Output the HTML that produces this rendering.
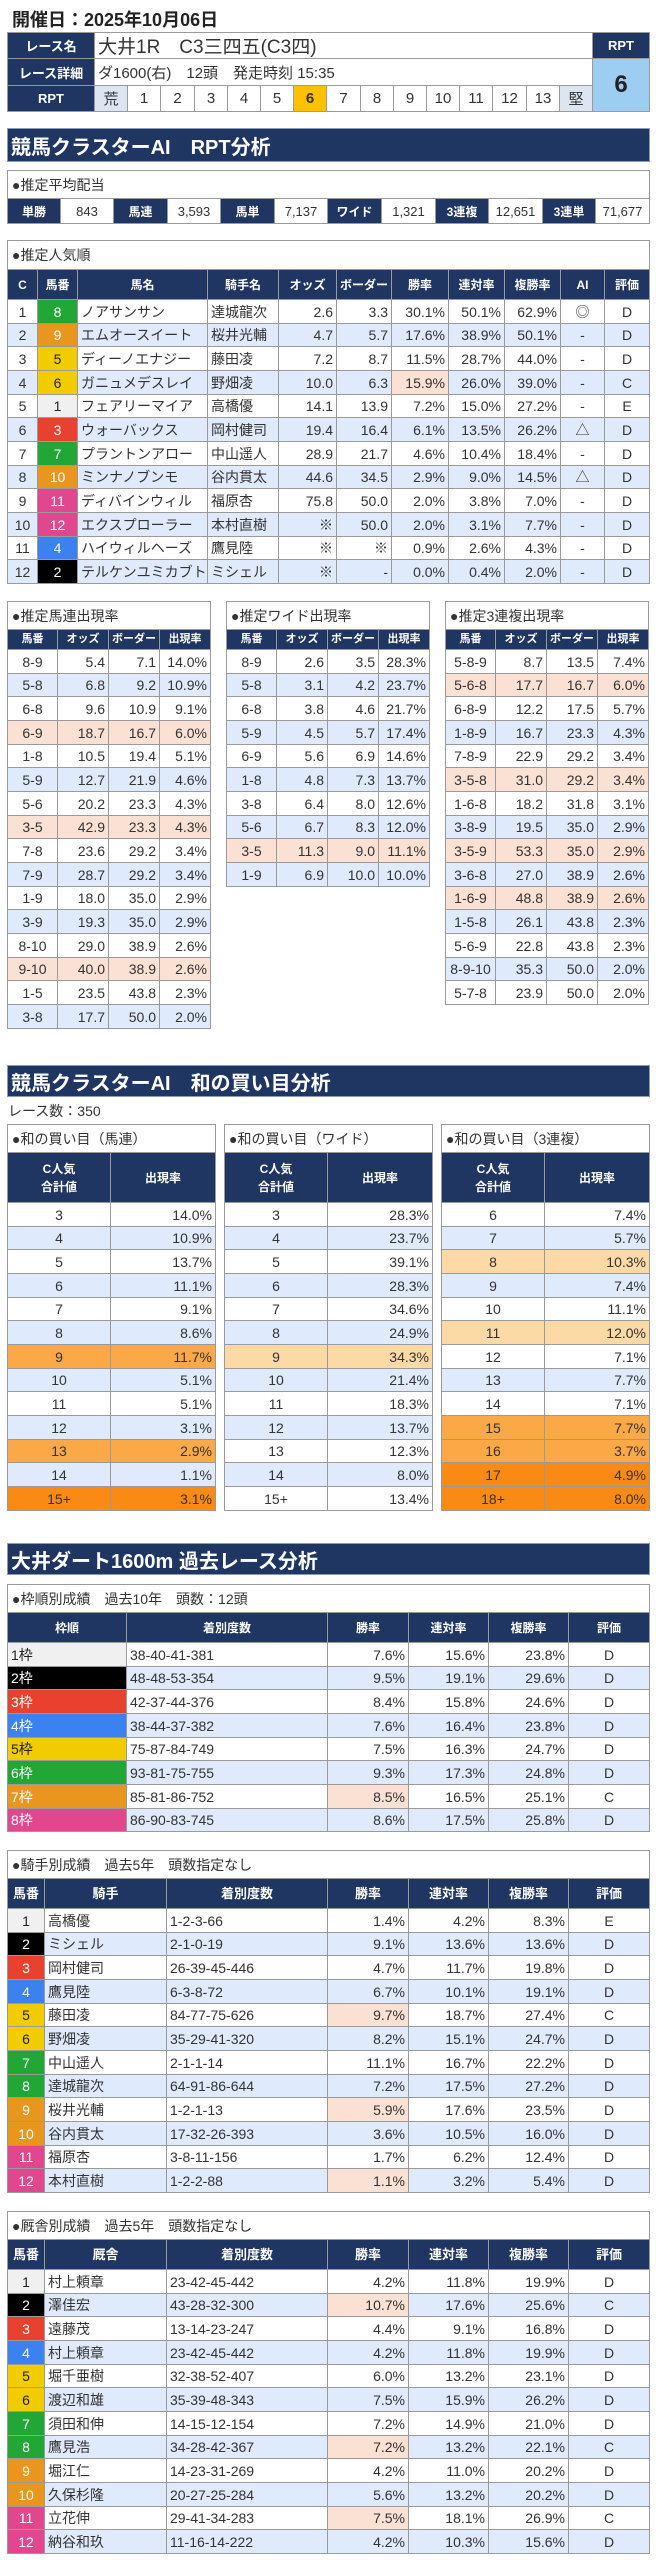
<!DOCTYPE html>
<html><head><meta charset="utf-8">
<style>
*{box-sizing:border-box;margin:0;padding:0}
body{width:656px;height:2560px;background:#fff;position:relative;overflow:hidden;font-family:"Liberation Sans","Noto Sans CJK JP",sans-serif;color:#333}
.c{position:absolute;display:flex;align-items:center;white-space:nowrap;overflow:hidden;border-right:1px solid #9a9a9a;border-bottom:1px solid #9a9a9a}
.sec{position:absolute;left:7px;width:643px;background:#1f3562;color:#fff;font-weight:bold;font-size:20px;display:flex;align-items:center;padding-left:3px;border:1px solid #8a9ab8}
</style></head><body>
<div style="position:absolute;left:12px;top:6px;font-size:18px;font-weight:bold;color:#222">開催日：2025年10月06日</div>
<div class="sec" style="top:128px;height:34px">競馬クラスターAI　RPT分析</div>
<div class="sec" style="top:1065px;height:32px">競馬クラスターAI　和の買い目分析</div>
<div style="position:absolute;left:8px;top:1101px;font-size:14px;color:#333">レース数：350</div>
<div class="sec" style="top:1543px;height:32px">大井ダート1600m 過去レース分析</div>
<script>
const NAVY='#1f3562',LB='#dfeafc',PEACH='#fbe0d4',O1='#fdd9a6',O2='#fba846',O3='#f98a14';
const FRAME=['#f0f0f0','#000000','#e8412f','#3b82f0','#f0cc00','#22a636','#e8961e','#e0478f'];
const FTXT=['#222','#fff','#fff','#fff','#222','#fff','#fff','#fff'];
const horseFrame=[0,1,2,3,4,5,5,6,6,7,7,8,8];
const root=document.body;
function cell(x,y,w,h,text,o){
  o=o||{};
  const el=document.createElement('div');
  el.className='c';
  
  
  el.style.cssText+=`left:${x}px;top:${y}px;width:${w}px;height:${h}px;background:${o.bg||'#fff'};color:${o.color||'#333'};font-size:${o.size||13}px;font-weight:${o.bold?'bold':'normal'};justify-content:${o.al==='l'?'flex-start':o.al==='r'?'flex-end':'center'};padding:0 ${o.al==='r'?3:o.al==='l'?3:0}px;`;
  if(o.bl)el.style.borderLeft='1px solid #9a9a9a';
  if(o.bt)el.style.borderTop='1px solid #9a9a9a';
  el.textContent=text;
  root.appendChild(el);
  return el;
}
function boxTitle(x,y,w,h,text,name){
  const el=cell(x,y,w,h,'●'+text,{al:'l',size:14,bl:1,bt:1,name:name});
  el.style.paddingLeft='4px';
}
function header(x,y,widths,h,labels,size){
  let cx=x;
  labels.forEach((t,i)=>{const el=cell(cx,y,widths[i],h,'',{bg:NAVY,color:'#fff',bold:1,size:size||12,bl:i===0,name:'column-header'});el.innerHTML=t;el.style.textAlign='center';el.style.lineHeight='1.5';cx+=widths[i];});
}
function rows(x,y,widths,rh,data,aligns,opts){
  opts=opts||{};
  data.forEach((r,ri)=>{
    let cx=x;
    const rowBg=opts.rowBg?opts.rowBg(ri):(ri%2?LB:'#fff');
    r.forEach((v,ci)=>{
      let s=String(v),bg=rowBg,col='#333';
      if(s[0]==='*'){s=s.slice(1);bg=PEACH;}
      if(opts.colored!==undefined&&ci===opts.colored){const f=opts.frameOf(r);bg=FRAME[f];col=FTXT[f];}
      cell(cx,Math.round(y+ri*rh),widths[ci],Math.round(y+(ri+1)*rh)-Math.round(y+ri*rh),s,{al:aligns[ci],bg:bg,color:col,bl:ci===0,size:opts.size||13,name:opts.name||'table-cell'});
      cx+=widths[ci];
    });
  });
}

/* race info table */
cell(7,32,88,27,'レース名',{bg:NAVY,color:'#fff',bold:1,size:13,bl:1,bt:1,name:'race-name-label'});
cell(7,59,88,27,'レース詳細',{bg:NAVY,color:'#fff',bold:1,size:13,bl:1,name:'race-detail-label'});
cell(7,86,88,26,'RPT',{bg:NAVY,color:'#fff',bold:1,size:13,bl:1,name:'rpt-label'});
cell(95,32,498,27,'大井1R　C3三四五(C3四)',{al:'l',size:19,bt:1,name:'race-name'});
cell(95,59,498,27,'ダ1600(右)　12頭　発走時刻 15:35',{al:'l',size:15,name:'race-detail'});
const rptScale=['荒','1','2','3','4','5','6','7','8','9','10','11','12','13','堅'];
rptScale.forEach((t,i)=>{const x0=95+Math.round(i*33.2),x1=95+Math.round((i+1)*33.2);
  cell(x0,86,x1-x0,26,t,{size:15,bg:(i===0||i===14)?'#dce6f2':(t==='6'?'#ffc000':'#fff'),bold:t==='6',name:'rpt-scale-cell'});});
cell(593,32,57,27,'RPT',{bg:NAVY,color:'#fff',bold:1,size:13,bt:1,name:'rpt-box-label'});
cell(593,59,57,53,'6',{bg:'#9dcdf0',color:'#222',bold:1,size:24,name:'rpt-value'});

/* payout */
boxTitle(7,170,643,29,'推定平均配当','avg-payout-title');
const payLabels=['単勝','馬連','馬単','ワイド','3連複','3連単'];
const payValues=['843','3,593','7,137','1,321','12,651','71,677'];
payLabels.forEach((l,i)=>{const x0=7+Math.round(i*2*53.58),x1=7+Math.round((i*2+1)*53.58),x2=7+Math.round((i*2+2)*53.58);
  cell(x0,199,x1-x0,25,l,{bg:NAVY,color:'#fff',bold:1,size:12,bl:i===0,name:'payout-label'});
  cell(x1,199,x2-x1,25,payValues[i],{size:13,name:'payout-value'});});

/* popularity */
boxTitle(7,240,643,30,'推定人気順','popularity-title');
const popW=[31,40,130,71,58,55,57,56,56,44,45];
header(7,270,popW,30,['C','馬番','馬名','騎手名','オッズ','ボーダー','勝率','連対率','複勝率','AI','評価'],12);
const popRows=[
[1,8,'ノアサンサン','達城龍次','2.6','3.3','30.1%','50.1%','62.9%','◎','D'],
[2,9,'エムオースイート','桜井光輔','4.7','5.7','17.6%','38.9%','50.1%','-','D'],
[3,5,'ディーノエナジー','藤田凌','7.2','8.7','11.5%','28.7%','44.0%','-','D'],
[4,6,'ガニュメデスレイ','野畑凌','10.0','6.3','*15.9%','26.0%','39.0%','-','C'],
[5,1,'フェアリーマイア','高橋優','14.1','13.9','7.2%','15.0%','27.2%','-','E'],
[6,3,'ウォーバックス','岡村健司','19.4','16.4','6.1%','13.5%','26.2%','△','D'],
[7,7,'プラントンアロー','中山遥人','28.9','21.7','4.6%','10.4%','18.4%','-','D'],
[8,10,'ミンナノブンモ','谷内貫太','44.6','34.5','2.9%','9.0%','14.5%','△','D'],
[9,11,'ディバインウィル','福原杏','75.8','50.0','2.0%','3.8%','7.0%','-','D'],
[10,12,'エクスプローラー','本村直樹','※','50.0','2.0%','3.1%','7.7%','-','D'],
[11,4,'ハイウィルヘーズ','鷹見陸','※','※','0.9%','2.6%','4.3%','-','D'],
[12,2,'テルケンユミカブト','ミシェル','※','-','0.0%','0.4%','2.0%','-','D']];
rows(7,300,popW,23.67,popRows,['c','c','l','l','r','r','r','r','r','c','c'],{colored:1,frameOf:r=>horseFrame[r[1]]-1,size:14,name:'popularity-cell'});

/* three estimate tables */
const umarenRows=[['8-9','5.4','7.1','14.0%'],['5-8','6.8','9.2','10.9%'],['6-8','9.6','10.9','9.1%'],['*6-9','*18.7','*16.7','*6.0%'],['1-8','10.5','19.4','5.1%'],['5-9','12.7','21.9','4.6%'],['5-6','20.2','23.3','4.3%'],['*3-5','*42.9','*23.3','*4.3%'],['7-8','23.6','29.2','3.4%'],['7-9','28.7','29.2','3.4%'],['1-9','18.0','35.0','2.9%'],['3-9','19.3','35.0','2.9%'],['8-10','29.0','38.9','2.6%'],['*9-10','*40.0','*38.9','*2.6%'],['1-5','23.5','43.8','2.3%'],['3-8','17.7','50.0','2.0%']];
const wideRows=[['8-9','2.6','3.5','28.3%'],['5-8','3.1','4.2','23.7%'],['6-8','3.8','4.6','21.7%'],['5-9','4.5','5.7','17.4%'],['6-9','5.6','6.9','14.6%'],['1-8','4.8','7.3','13.7%'],['3-8','6.4','8.0','12.6%'],['5-6','6.7','8.3','12.0%'],['*3-5','*11.3','*9.0','*11.1%'],['1-9','6.9','10.0','10.0%']];
const trioRows=[['5-8-9','8.7','13.5','7.4%'],['*5-6-8','*17.7','*16.7','*6.0%'],['6-8-9','12.2','17.5','5.7%'],['1-8-9','16.7','23.3','4.3%'],['7-8-9','22.9','29.2','3.4%'],['*3-5-8','*31.0','*29.2','*3.4%'],['1-6-8','18.2','31.8','3.1%'],['3-8-9','19.5','35.0','2.9%'],['*3-5-9','*53.3','*35.0','*2.9%'],['3-6-8','27.0','38.9','2.6%'],['*1-6-9','*48.8','*38.9','*2.6%'],['1-5-8','26.1','43.8','2.3%'],['5-6-9','22.8','43.8','2.3%'],['8-9-10','35.3','50.0','2.0%'],['5-7-8','23.9','50.0','2.0%']];
[[7,'推定馬連出現率',umarenRows,'umaren'],[226,'推定ワイド出現率',wideRows,'wide'],[445,'推定3連複出現率',trioRows,'trio']].forEach(([x,t,d,n])=>{
  boxTitle(x,601,204,29,t,n+'-title');
  header(x,630,[51,51,51,51],20,['馬番','オッズ','ボーダー','出現率'],11);
  rows(x,650,[51,51,51,51],23.67,d,['c','r','r','r'],{size:14,name:n+'-cell'});
});

/* wa tables */
const waUmaren=[['3','14.0%'],['4','10.9%'],['5','13.7%'],['6','11.1%'],['7','9.1%'],['8','8.6%'],['9','11.7%'],['10','5.1%'],['11','5.1%'],['12','3.1%'],['13','2.9%'],['14','1.1%'],['15+','3.1%']];
const waUmarenHL=[0,0,0,0,0,0,2,0,0,0,2,0,3];
const waWide=[['3','28.3%'],['4','23.7%'],['5','39.1%'],['6','28.3%'],['7','34.6%'],['8','24.9%'],['9','34.3%'],['10','21.4%'],['11','18.3%'],['12','13.7%'],['13','12.3%'],['14','8.0%'],['15+','13.4%']];
const waWideHL=[0,0,0,0,0,0,1,0,0,0,0,0,0];
const waTrio=[['6','7.4%'],['7','5.7%'],['8','10.3%'],['9','7.4%'],['10','11.1%'],['11','12.0%'],['12','7.1%'],['13','7.7%'],['14','7.1%'],['15','7.7%'],['16','3.7%'],['17','4.9%'],['18+','8.0%']];
const waTrioHL=[0,0,1,0,0,1,0,0,0,2,2,3,3];
[[7,'和の買い目（馬連）',waUmaren,waUmarenHL,'wa-umaren'],[224,'和の買い目（ワイド）',waWide,waWideHL,'wa-wide'],[441,'和の買い目（3連複）',waTrio,waTrioHL,'wa-trio']].forEach(([x,t,d,hl,n])=>{
  boxTitle(x,1124,209,29,t,n+'-title');
  header(x,1153,[104,105],50,['C人気<br>合計値','出現率'],12);
  rows(x,1203,[104,105],23.67,d,['c','r'],{size:14,name:n+'-cell',rowBg:i=>[i%2?LB:'#fff',O1,O2,O3][hl[i]]});
});

/* frame table */
boxTitle(7,1584,643,29,'枠順別成績　過去10年　頭数：12頭','frame-title');
const frW=[120,201,81,80,80,81];
header(7,1613,frW,30,['枠順','着別度数','勝率','連対率','複勝率','評価'],12);
const frameRows=[['1枠','38-40-41-381','7.6%','15.6%','23.8%','D'],['2枠','48-48-53-354','9.5%','19.1%','29.6%','D'],['3枠','42-37-44-376','8.4%','15.8%','24.6%','D'],['4枠','38-44-37-382','7.6%','16.4%','23.8%','D'],['5枠','75-87-84-749','7.5%','16.3%','24.7%','D'],['6枠','93-81-75-755','9.3%','17.3%','24.8%','D'],['7枠','85-81-86-752','*8.5%','16.5%','25.1%','C'],['8枠','86-90-83-745','8.6%','17.5%','25.8%','D']];
rows(7,1643,frW,23.67,frameRows,['l','l','r','r','r','c'],{colored:0,frameOf:r=>parseInt(r[0])-1,size:14,name:'frame-cell'});

/* jockey / trainer */
const jW=[38,122,161,81,80,80,81];
const jockeyRows=[[1,'高橋優','1-2-3-66','1.4%','4.2%','8.3%','E'],[2,'ミシェル','2-1-0-19','9.1%','13.6%','13.6%','D'],[3,'岡村健司','26-39-45-446','4.7%','11.7%','19.8%','D'],[4,'鷹見陸','6-3-8-72','6.7%','10.1%','19.1%','D'],[5,'藤田凌','84-77-75-626','*9.7%','18.7%','27.4%','C'],[6,'野畑凌','35-29-41-320','8.2%','15.1%','24.7%','D'],[7,'中山遥人','2-1-1-14','11.1%','16.7%','22.2%','D'],[8,'達城龍次','64-91-86-644','7.2%','17.5%','27.2%','D'],[9,'桜井光輔','1-2-1-13','*5.9%','17.6%','23.5%','D'],[10,'谷内貫太','17-32-26-393','3.6%','10.5%','16.0%','D'],[11,'福原杏','3-8-11-156','1.7%','6.2%','12.4%','D'],[12,'本村直樹','1-2-2-88','*1.1%','3.2%','5.4%','D']];
const trainerRows=[[1,'村上頼章','23-42-45-442','4.2%','11.8%','19.9%','D'],[2,'澤佳宏','43-28-32-300','*10.7%','17.6%','25.6%','C'],[3,'遠藤茂','13-14-23-247','4.4%','9.1%','16.8%','D'],[4,'村上頼章','23-42-45-442','4.2%','11.8%','19.9%','D'],[5,'堀千亜樹','32-38-52-407','6.0%','13.2%','23.1%','D'],[6,'渡辺和雄','35-39-48-343','7.5%','15.9%','26.2%','D'],[7,'須田和伸','14-15-12-154','7.2%','14.9%','21.0%','D'],[8,'鷹見浩','34-28-42-367','*7.2%','13.2%','22.1%','C'],[9,'堀江仁','14-23-31-269','4.2%','11.0%','20.2%','D'],[10,'久保杉隆','20-27-25-284','5.6%','13.2%','20.2%','D'],[11,'立花伸','29-41-34-283','*7.5%','18.1%','26.9%','C'],[12,'納谷和玖','11-16-14-222','4.2%','10.3%','15.6%','D']];
[[1850,'騎手別成績　過去5年　頭数指定なし','騎手',jockeyRows,'jockey'],[2211,'厩舎別成績　過去5年　頭数指定なし','厩舎',trainerRows,'trainer']].forEach(([y,t,h,d,n])=>{
  boxTitle(7,y,643,29,t,n+'-title');
  header(7,y+29,jW,30,['馬番',h,'着別度数','勝率','連対率','複勝率','評価'],13);
  rows(7,y+59,jW,23.67,d,['c','l','l','r','r','r','c'],{colored:0,frameOf:r=>horseFrame[r[0]]-1,size:14,name:n+'-cell'});
});
</script>
</body></html>
